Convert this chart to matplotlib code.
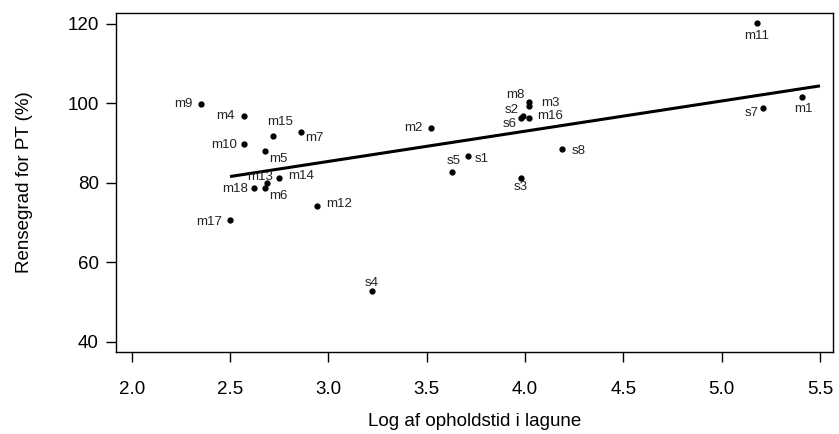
"""
Rensegrad for PT vs. log af opholdstid i lagune (scatter + regression line).
"""

import matplotlib
matplotlib.use('Agg')
import matplotlib.pyplot as plt

plt.rcParams['font.family'] = ['Liberation Sans', 'DejaVu Sans']

# Data
names = ['m9', 'm4', 'm15', 'm7', 'm10', 'm5', 'm14', 'm13', 'm6', 'm18',
         'm12', 'm17', 'm2', 'm8', 'm3', 's2', 's6', 'm16', 's1', 's5',
         's3', 's8', 'm11', 's7', 'm1', 's4']
log_time = [2.35, 2.57, 2.72, 2.86, 2.57, 2.68, 2.75, 2.69, 2.68, 2.62,
            2.94, 2.50, 3.52, 4.02, 4.02, 3.99, 3.98, 4.02, 3.71, 3.63,
            3.98, 4.19, 5.18, 5.21, 5.41, 3.22]
pt_removal = [99.9, 96.8, 91.7, 92.9, 89.9, 88.1, 81.3, 79.9, 78.8, 78.7,
              74.3, 70.6, 93.9, 100.4, 99.4, 96.9, 96.3, 96.2, 86.8, 82.7,
              81.2, 88.4, 120.2, 98.9, 101.6, 52.8]

# fitted line, end points
fit_x = [2.5, 5.5]
fit_y = [81.6, 104.4]

x_ticks = [2.0, 2.5, 3.0, 3.5, 4.0, 4.5, 5.0, 5.5]
y_ticks = [40, 60, 80, 100, 120]

# label placement: (dx, dy) in pixels, horizontal alignment
LABEL_POS = {
    'm9': (-8, 0, 'right'), 'm4': (-9, 0, 'right'), 'm15': (7, 14, 'center'),
    'm7': (4, -6, 'left'), 'm10': (-7, -1, 'right'), 'm5': (4, -8, 'left'),
    'm14': (9, 2, 'left'), 'm13': (-7, 6, 'center'), 'm6': (4, -8, 'left'),
    'm18': (-6, -1, 'right'), 'm12': (10, 2, 'left'), 'm17': (-8, -2, 'right'),
    'm2': (-8, 0, 'right'), 'm8': (-4, 7, 'right'), 'm3': (12, 3, 'left'),
    's2': (-4, 6, 'right'), 's6': (-4, -6, 'right'), 'm16': (8, 2, 'left'),
    's1': (7, -3, 'left'), 's5': (1, 11, 'center'), 's3': (0, -9, 'center'),
    's8': (9, -2, 'left'), 'm11': (0, -13, 'center'), 's7': (-4, -5, 'right'),
    'm1': (1, -12, 'center'), 's4': (0, 8, 'center'),
}

fig = plt.figure(figsize=(8.39, 4.34), dpi=100)
ax = fig.add_axes([0.1383, 0.1883, 0.9928 - 0.1383, 0.9707 - 0.1883])

ax.plot(log_time, pt_removal, 'o', color='black', markersize=3.5)
ax.plot(fit_x, fit_y, color='black', linewidth=2.2, solid_capstyle='butt')

for name, x, y in zip(names, log_time, pt_removal):
    dx, dy, ha = LABEL_POS[name]
    ax.annotate(name, xy=(x, y), xytext=(dx, dy), textcoords='offset pixels',
                ha=ha, va='center', fontsize=9.5, color='#222222')

ax.set_xlim(1.92, 5.566)
ax.set_ylim(37.4, 122.8)
ax.set_xticks(x_ticks)
ax.set_xticklabels([f'{t:.1f}' for t in x_ticks])
ax.set_yticks(y_ticks)

ax.tick_params(axis='x', direction='out', length=7.5, width=1, pad=13, labelsize=13.5)
ax.tick_params(axis='y', direction='out', length=7.5, width=1, pad=5, labelsize=13.5)
for spine in ax.spines.values():
    spine.set_linewidth(1)

ax.set_xlabel('Log af opholdstid i lagune', fontsize=13.5, labelpad=11)
ax.set_ylabel('Rensegrad for PT (%)', fontsize=13.5, labelpad=25)

plt.savefig('out.png', dpi=100, facecolor='white')
plt.close()
